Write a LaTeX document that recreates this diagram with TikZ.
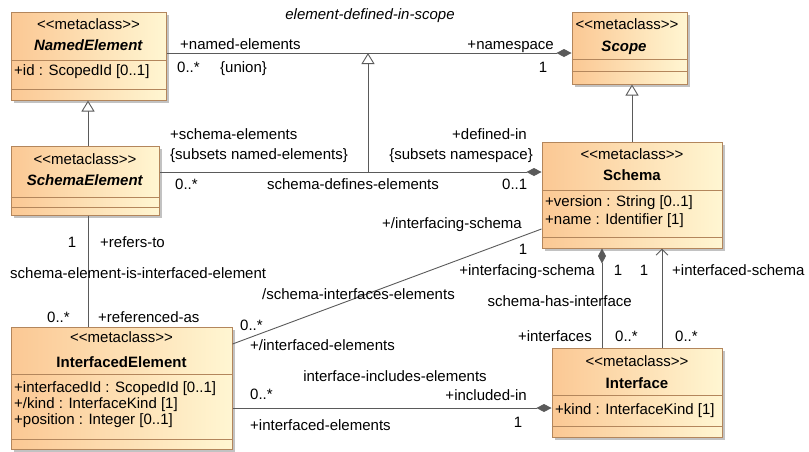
\documentclass[tikz,border=0pt]{standalone}
\usepackage{fontspec}
\setmainfont{Liberation Sans}
\usepackage{tikz}
\usetikzlibrary{arrows.meta,shadows}

\definecolor{clsleft}{HTML}{FBC894}
\definecolor{clsright}{HTML}{FFF6D2}
\definecolor{clsborder}{HTML}{B3865C}
\definecolor{linegray}{HTML}{5A5A5A}

\newcommand{\mcls}{<{}<metaclass>{}>}

\tikzset{
  cls/.style={draw=clsborder, line width=1pt, left color=clsleft, right color=clsright,
    inner sep=0pt, drop shadow={shadow xshift=3pt, shadow yshift=-3pt, fill=black!40, opacity=0.6}},
  sepline/.style={draw=clsborder, line width=1pt},
  assoc/.style={draw=linegray, line width=0.9pt},
  gen/.style={assoc, -{Triangle[length=11pt, width=13pt, fill=white]}},
  comp/.style={assoc, -{Diamond[length=15pt, width=8pt, fill=linegray]}},
  nav/.style={assoc, -{Straight Barb[length=6pt, width=12pt]}},
  lbl/.style={inner sep=0pt}
}

\begin{document}
\begin{tikzpicture}[x=1pt, y=-1pt, font=\fontsize{15}{17}\selectfont]
  \useasboundingbox (0,0) rectangle (809,451);

  % classes
  \node[cls, minimum width=155pt, minimum height=88pt] (ne) at (88.5,56) {};
  \node[cls, minimum width=115pt, minimum height=72pt] (scope) at (629.5,48) {};
  \node[cls, minimum width=148pt, minimum height=69pt] (se) at (85,180.5) {};
  \node[cls, minimum width=180pt, minimum height=106pt] (schema) at (632,195) {};
  \node[cls, minimum width=221pt, minimum height=122pt] (ie) at (121.5,388) {};
  \node[cls, minimum width=170pt, minimum height=89pt] (if) at (637,392.5) {};

  % compartments
  \draw[sepline] (ne.west |- 0,60) -- (ne.east |- 0,60);
  \draw[sepline] (ne.west |- 0,89) -- (ne.east |- 0,89);
  \draw[sepline] (scope.west |- 0,59) -- (scope.east |- 0,59);
  \draw[sepline] (scope.west |- 0,71) -- (scope.east |- 0,71);
  \draw[sepline] (se.west |- 0,197) -- (se.east |- 0,197);
  \draw[sepline] (se.west |- 0,207) -- (se.east |- 0,207);
  \draw[sepline] (schema.west |- 0,190) -- (schema.east |- 0,190);
  \draw[sepline] (schema.west |- 0,237) -- (schema.east |- 0,237);
  \draw[sepline] (ie.west |- 0,374) -- (ie.east |- 0,374);
  \draw[sepline] (ie.west |- 0,439) -- (ie.east |- 0,439);
  \draw[sepline] (if.west |- 0,395) -- (if.east |- 0,395);
  \draw[sepline] (if.west |- 0,426) -- (if.east |- 0,426);

  % class texts
  \node[lbl, anchor=base] (neS) at (88.5,29) {\mcls};
  \node[lbl, anchor=base] (neN) at (88.5,50) {\textbf{\textit{NamedElement}}};
  \node[lbl, anchor=base west] (neA) at (14,75) {+id : ScopedId [0..1]};

  \node[lbl, anchor=base] (scS) at (627,29) {\mcls};
  \node[lbl, anchor=base] (scN) at (624,51) {\textbf{\textit{Scope}}};

  \node[lbl, anchor=base] (seS) at (85,164) {\mcls};
  \node[lbl, anchor=base] (seN) at (85,185) {\textbf{\textit{SchemaElement}}};

  \node[lbl, anchor=base] (shS) at (632,159) {\mcls};
  \node[lbl, anchor=base] (shN) at (632,180) {\textbf{Schema}};
  \node[lbl, anchor=base west] (shA1) at (545,206) {+version : String [0..1]};
  \node[lbl, anchor=base west] (shA2) at (545,224) {+name : Identifier [1]};

  \node[lbl, anchor=base] (ieS) at (121.5,342) {\mcls};
  \node[lbl, anchor=base] (ieN) at (121.5,367) {\textbf{InterfacedElement}};
  \node[lbl, anchor=base west] (ieA1) at (14,392) {+interfacedId : ScopedId [0..1]};
  \node[lbl, anchor=base west] (ieA2) at (14,408) {+/kind : InterfaceKind [1]};
  \node[lbl, anchor=base west] (ieA3) at (14,424) {+position : Integer [0..1]};

  \node[lbl, anchor=base] (ifS) at (637,366) {\mcls};
  \node[lbl, anchor=base] (ifN) at (637,388) {\textbf{Interface}};
  \node[lbl, anchor=base west] (ifA) at (555,414) {+kind : InterfaceKind [1]};

  % connectors
  \draw[comp] (ne.east |- 0,53) -- (scope.west |- 0,53);
  \draw[gen] (se.north -| 88,0) -- (ne.south -| 88,0);
  \draw[gen] (schema.north -| 632,0) -- (scope.south -| 632,0);
  \draw[comp] (se.east |- 0,172) -- (schema.west |- 0,172);
  \coordinate (agB) at (368,172);
  \coordinate (agT) at (368,53);
  \draw[gen] (agB) -- (agT);
  \draw[assoc] (se.south -| 88,0) -- (ie.north -| 88,0);
  \draw[assoc] (ie.east |- 0,344) -- (schema.west |- 0,229);
  \draw[comp] (ie.east |- 0,408) -- (if.west |- 0,408);
  \draw[comp] (if.north -| 602,0) -- (schema.south -| 602,0);
  \draw[nav] (if.north -| 662,0) -- (schema.south -| 662,0);

  % association labels
  \node[lbl, anchor=base, font=\fontsize{15}{17}\selectfont\itshape] (aDef) at (370,19) {element-defined-in-scope};
  \node[lbl, anchor=base west] (a1) at (180,49) {+named-elements};
  \node[lbl, anchor=base west] (a2) at (177,72) {0..*};
  \node[lbl, anchor=base west] (a3) at (220,72) {\{union\}};
  \node[lbl, anchor=base east] (a4) at (554,49) {+namespace};
  \node[lbl, anchor=base] (a5) at (543,72) {1};

  \node[lbl, anchor=base west] (b1) at (170,139) {+schema-elements};
  \node[lbl, anchor=base west] (b2) at (170,159) {\{subsets named-elements\}};
  \node[lbl, anchor=base west] (b3) at (175,189) {0..*};
  \node[lbl, anchor=base] (b4) at (353,189) {schema-defines-elements};
  \node[lbl, anchor=base east] (b5) at (527,139) {+defined-in};
  \node[lbl, anchor=base east] (b6) at (533,159) {\{subsets namespace\}};
  \node[lbl, anchor=base west] (b7) at (502,189) {0..1};

  \node[lbl, anchor=base east] (c1) at (522,228) {+/interfacing-schema};
  \node[lbl, anchor=base] (c2) at (523,254) {1};
  \node[lbl, anchor=base west] (c3) at (262,299) {/schema-interfaces-elements};
  \node[lbl, anchor=base west] (c4) at (240,330) {0..*};
  \node[lbl, anchor=base west] (c5) at (250,350) {+/interfaced-elements};

  \node[lbl, anchor=base] (d1) at (72,247) {1};
  \node[lbl, anchor=base west] (d2) at (100,247) {+refers-to};
  \node[lbl, anchor=base west] (d3) at (10,278) {schema-element-is-interfaced-element};
  \node[lbl, anchor=base west] (d4) at (47,322) {0..*};
  \node[lbl, anchor=base west] (d5) at (98,322) {+referenced-as};

  \node[lbl, anchor=base] (e1) at (395,381) {interface-includes-elements};
  \node[lbl, anchor=base west] (e2) at (250,399) {0..*};
  \node[lbl, anchor=base east] (e3) at (527,400) {+included-in};
  \node[lbl, anchor=base] (e4) at (518,427) {1};
  \node[lbl, anchor=base west] (e5) at (250,430) {+interfaced-elements};

  \node[lbl, anchor=base east] (f1) at (595,275) {+interfacing-schema};
  \node[lbl, anchor=base] (f2) at (618,275) {1};
  \node[lbl, anchor=base] (f3) at (644,275) {1};
  \node[lbl, anchor=base west] (f4) at (672,275) {+interfaced-schema};
  \node[lbl, anchor=base east] (f5) at (632,306) {schema-has-interface};
  \node[lbl, anchor=base east] (f6) at (592,341) {+interfaces};
  \node[lbl, anchor=base west] (f7) at (615,341) {0..*};
  \node[lbl, anchor=base west] (f8) at (675,341) {0..*};
\end{tikzpicture}
\end{document}
